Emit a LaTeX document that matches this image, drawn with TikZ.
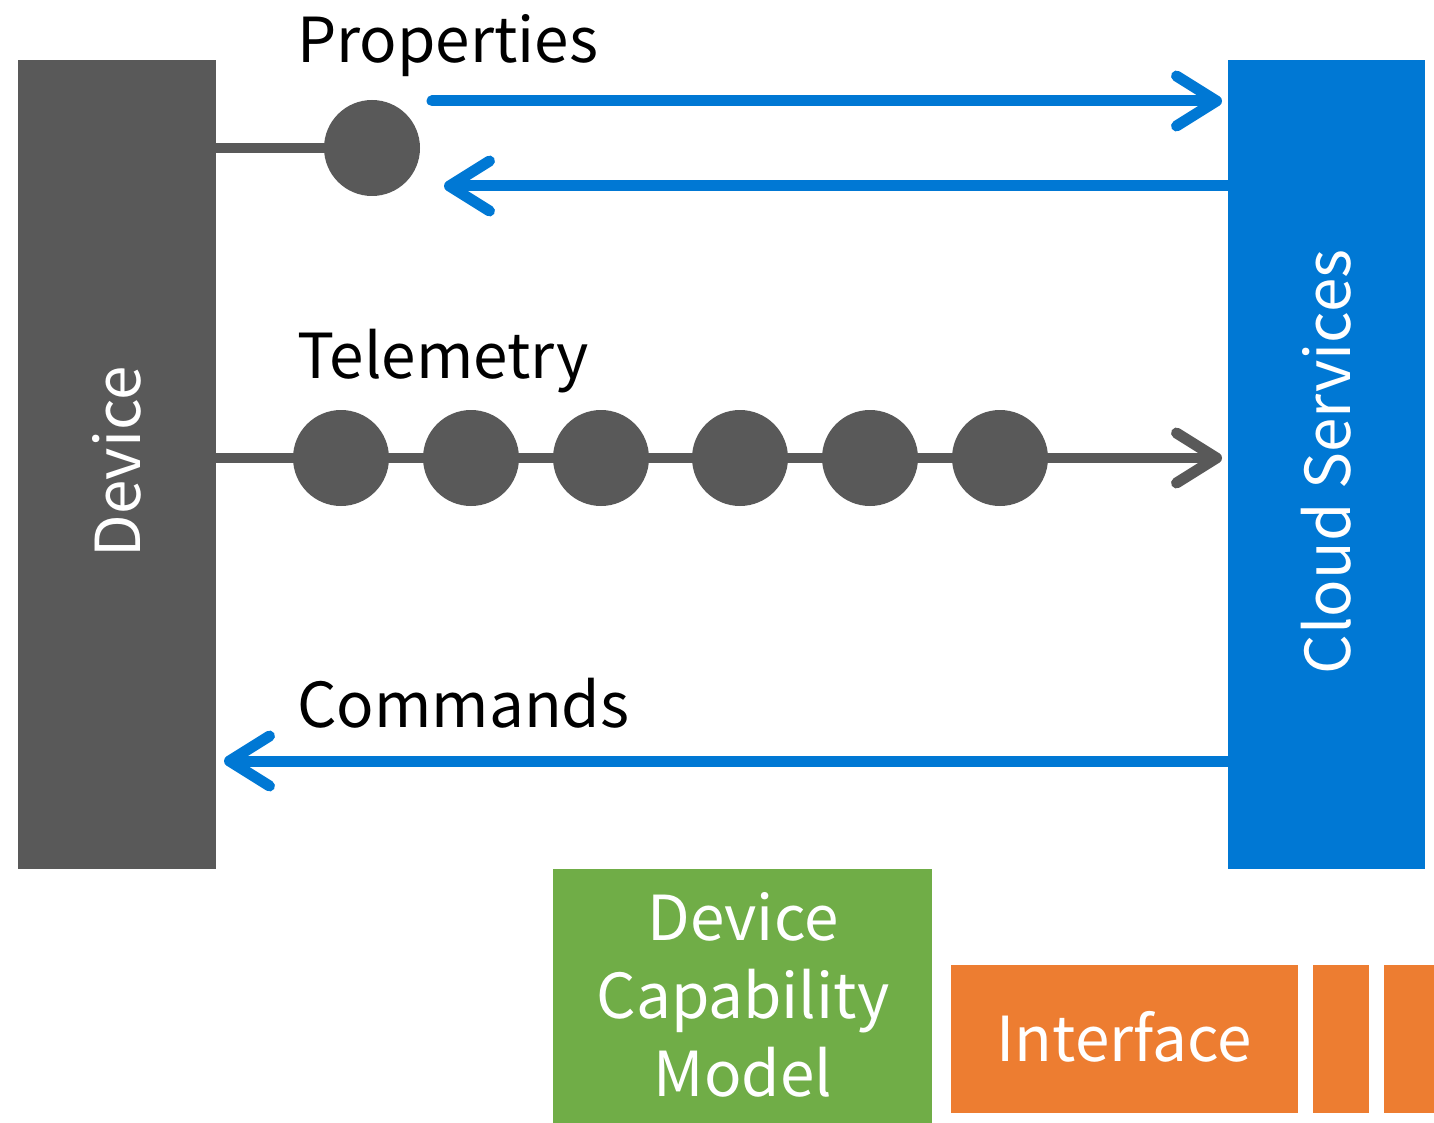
\documentclass[tikz,border=0pt]{standalone}
\usepackage{fontspec}
\setmainfont{Noto Sans CJK JP}
\usetikzlibrary{arrows.meta}
\definecolor{devgray}{HTML}{595959}
\definecolor{cloudblue}{HTML}{0078D4}
\definecolor{dcmgreen}{HTML}{70AD47}
\definecolor{ifaceorange}{HTML}{ED7D31}
\tikzset{
  lbl/.style={font=\fontsize{62}{70}\selectfont, anchor=base west, inner sep=0pt},
  boxtxt/.style={font=\fontsize{62}{78}\selectfont, text=white, align=center, inner sep=0pt},
  chevron/.style={-{Straight Barb[length=40pt, width=50pt, line width=11pt, round]}},
  flowblue/.style={draw=cloudblue, line width=11pt, line cap=round, chevron},
  flowgray/.style={draw=devgray, line width=10pt, chevron},
  dot/.style={circle, fill=devgray, minimum size=96pt, inner sep=0pt},
}
\begin{document}
\begin{tikzpicture}[x=1pt, y=-1pt]
\useasboundingbox (0,0) rectangle (1434,1123);

% main blocks
\fill[devgray] (18,60) rectangle (216,869);
\node[boxtxt, rotate=90] (device) at (117,462) {Device};
\fill[cloudblue] (1228,60) rectangle (1425,869);
\node[boxtxt, rotate=90] (cloud) at (1326,462) {Cloud Services};

% properties
\node[lbl] (plbl) at (297,63) {Properties};
\coordinate (pdev) at (216,148);
\node[dot] (prop) at (372,148) {};
\draw[devgray, line width=10pt] (pdev) -- (prop);
\coordinate (pOutS) at (432,101);
\coordinate (pOutE) at (1222,101);
\coordinate (pInS) at (1228,186);
\coordinate (pInE) at (444,186);
\draw[flowblue] (pOutS) -- (pOutE);
\draw[flowblue, line cap=butt] (pInS) -- (pInE);

% telemetry
\node[lbl] (tlbl) at (297,378) {Telemetry};
\coordinate (tS) at (216,458);
\coordinate (tE) at (1222,458);
\draw[flowgray] (tS) -- (tE);
\foreach \i/\x in {1/341,2/471,3/601,4/740,5/870,6/1000}
  \node[dot] (t\i) at (\x,458) {};

% commands
\node[lbl] (clbl) at (297,727) {Commands};
\coordinate (cS) at (1228,761);
\coordinate (cE) at (224,761);
\draw[flowblue, line cap=butt] (cS) -- (cE);

% model boxes
\fill[dcmgreen] (553,869) rectangle (932,1123);
\node[boxtxt] (dcm) at (743,995) {Device\\Capability\\Model};
\fill[ifaceorange] (951,965) rectangle (1298,1113);
\node[boxtxt] (iface) at (1124,1037) {Interface};
\fill[ifaceorange] (1313,965) rectangle (1369,1113);
\fill[ifaceorange] (1384,965) rectangle (1434,1113);
\end{tikzpicture}
\end{document}
